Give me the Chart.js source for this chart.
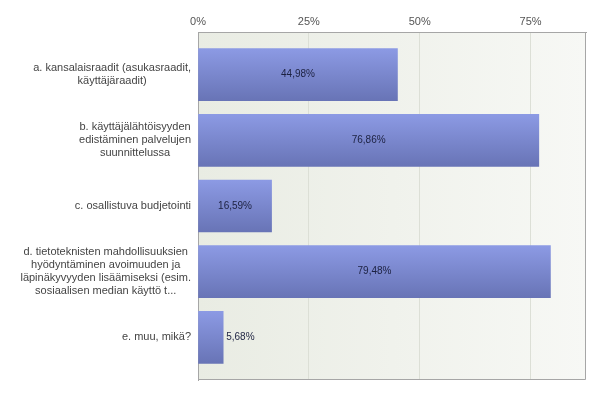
<!DOCTYPE html>
<html>
<head>
<meta charset="utf-8">
<script src="https://cdn.jsdelivr.net/npm/chart.js@4/dist/chart.umd.min.js"></script>
<style>
    html, body { margin: 0; padding: 0; background: #fff; }
    #wrap { width: 600px; height: 395px; }
</style>
</head>
<body>
<div id="wrap"><canvas id="surveyChart" width="600" height="395"></canvas></div>
<script>
// Answer options (each entry is the wrapped label lines)
const categories = [
    ['a. kansalaisraadit (asukasraadit,', 'käyttäjäraadit)'],
    ['b. käyttäjälähtöisyyden', 'edistäminen palvelujen', 'suunnittelussa'],
    ['c. osallistuva budjetointi'],
    ['d. tietoteknisten mahdollisuuksien', 'hyödyntäminen avoimuuden ja', 'läpinäkyvyyden lisäämiseksi (esim.', 'sosiaalisen median käyttö t...'],
    ['e. muu, mikä?']
];
const values = [44.98, 76.86, 16.59, 79.48, 5.68];
const tickValues = [0, 25, 50, 75];

const FONT = "'Liberation Sans', Arial, sans-serif";

function formatPercent(v) {
    return v.toFixed(2).replace('.', ',') + '%';
}

// Plot background, frame and the bar value labels
const frameAndLabels = {
    id: 'frameAndLabels',
    beforeDraw(chart) {
        const { ctx, chartArea: a } = chart;
        const g = ctx.createLinearGradient(a.left, 0, a.right, 0);
        g.addColorStop(0, '#e9ece3');
        g.addColorStop(1, '#f7f8f5');
        ctx.save();
        ctx.fillStyle = g;
        ctx.fillRect(a.left, a.top, a.right - a.left, a.bottom - a.top);
        ctx.restore();
    },
    afterDatasetsDraw(chart) {
        const { ctx } = chart;
        const meta = chart.getDatasetMeta(0);
        ctx.save();
        ctx.font = '10px ' + FONT;
        ctx.fillStyle = '#1c2140';
        ctx.textBaseline = 'middle';
        meta.data.forEach((bar, i) => {
            const text = formatPercent(values[i]);
            const w = ctx.measureText(text).width;
            const barW = bar.x - bar.base;
            if (barW > w + 12) {
                ctx.textAlign = 'center';
                ctx.fillText(text, (bar.x + bar.base) / 2, bar.y);
            } else {
                ctx.textAlign = 'left';
                ctx.fillText(text, bar.x + 3, bar.y);
            }
        });
        ctx.restore();
    },
    afterDraw(chart) {
        const { ctx, chartArea: a } = chart;
        const yScale = chart.scales.y;
        ctx.save();
        ctx.strokeStyle = '#a6a6a6';
        ctx.lineWidth = 1;
        ctx.beginPath();
        ctx.moveTo(a.right - 0.5, a.top);
        ctx.lineTo(a.right - 0.5, a.bottom - 0.5);
        ctx.lineTo(a.left, a.bottom - 0.5);
        ctx.stroke();

        // category labels: block right aligned, lines centred inside it
        ctx.font = '11px ' + FONT;
        ctx.fillStyle = '#444';
        ctx.textAlign = 'center';
        ctx.textBaseline = 'middle';
        const lineH = 13;
        const right = a.left - 7;
        categories.forEach((lines, i) => {
            const blockW = Math.max(...lines.map(l => ctx.measureText(l).width));
            const cx = right - blockW / 2;
            const cy = yScale.getPixelForValue(i);
            const y0 = cy - (lines.length - 1) * lineH / 2;
            lines.forEach((l, j) => ctx.fillText(l, cx, y0 + j * lineH));
        });
        ctx.restore();
    }
};

const ctx = document.getElementById('surveyChart').getContext('2d');
new Chart(ctx, {
    type: 'bar',
    data: {
        datasets: [{
            data: values.map((v, i) => ({ x: v, y: i })),
            backgroundColor: function(c) {
                const chart = c.chart;
                const y = chart.scales && chart.scales.y;
                if (!y || c.dataIndex === undefined) return '#7a88cf';
                const cy = y.getPixelForValue(c.dataIndex);
                if (!isFinite(cy)) return '#7a88cf';
                const g = chart.ctx.createLinearGradient(0, cy - 26, 0, cy + 26);
                g.addColorStop(0, '#8c9ae4');
                g.addColorStop(1, '#6874b6');
                return g;
            },
            borderWidth: 0,
            barThickness: 52
        }]
    },
    options: {
        indexAxis: 'y',
        responsive: false,
        animation: false,
        layout: { padding: { left: 0, right: 14, top: 0, bottom: 15 } },
        plugins: {
            legend: { display: false },
            tooltip: { enabled: false }
        },
        scales: {
            x: {
                type: 'linear',
                position: 'top',
                min: 0,
                max: 87.5,
                afterBuildTicks(scale) {
                    scale.ticks = tickValues.map(v => ({ value: v }));
                },
                afterFit(scale) {
                    scale.height = 32;
                },
                ticks: {
                    callback: v => v + '%',
                    color: '#555',
                    font: { family: FONT, size: 11 },
                    padding: 3,
                    maxRotation: 0
                },
                grid: {
                    color: '#dcdfd6',
                    drawTicks: false
                },
                border: { color: '#a6a6a6' }
            },
            y: {
                type: 'linear',
                reverse: true,
                offset: false,
                min: -0.65,
                max: 4.65,
                afterFit(scale) {
                    scale.width = 198;
                },
                ticks: { display: false, stepSize: 1, includeBounds: false },
                grid: { display: false, offset: false },
                border: { color: '#a6a6a6' }
            }
        }
    },
    plugins: [frameAndLabels]
});
</script>
</body>
</html>
